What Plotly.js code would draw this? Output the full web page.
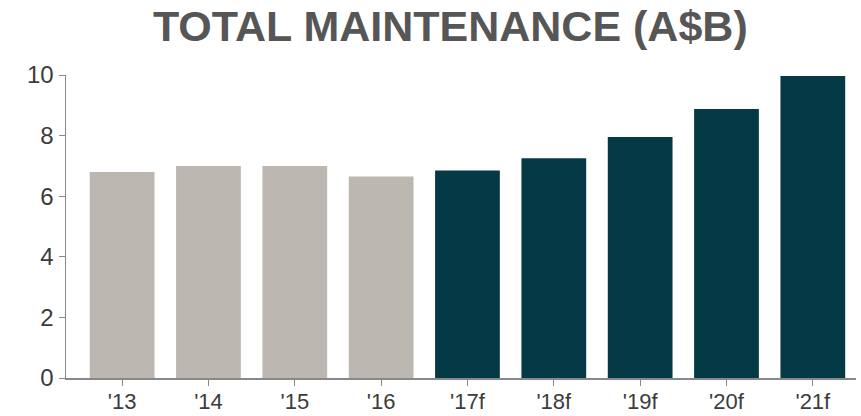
<!DOCTYPE html>
<html><head><meta charset="utf-8">
<script src="https://cdn.plot.ly/plotly-3.0.1.min.js"></script>
<style>body{margin:0;background:#fff}#chart{width:861px;height:416px}</style>
</head><body><div id="chart"></div>
<script>
var categories = ["'13","'14","'15","'16","'17f","'18f","'19f","'20f","'21f"];
var values = [6.8, 7.0, 7.0, 6.65, 6.85, 7.25, 7.95, 8.88, 9.97];
var isForecast = [false,false,false,false,true,true,true,true,true];
var colors = isForecast.map(function(f){return f ? '#033a45' : '#bcb7b1';});

Plotly.newPlot('chart', [{
  type: 'bar', x: categories, y: values,
  marker: {color: colors}, hoverinfo: 'x+y'
}], {
  width: 861, height: 416,
  margin: {l: 66, r: 5, t: 75, b: 38},
  paper_bgcolor: '#fff', plot_bgcolor: '#fff',
  bargap: 0.25,
  title: {text: '<b>TOTAL MAINTENANCE (A$B)</b>', x: 0.523, xanchor: 'center', y: 0.975, yanchor: 'top',
          font: {family: 'Liberation Sans, Arial, sans-serif', size: 43, color: '#565656'}},
  xaxis: {type: 'category', range: [-0.65, 8.5], showline: true, linecolor: '#888', linewidth: 1.5,
          ticks: 'outside', ticklen: 6, tickcolor: '#888', showgrid: false, zeroline: false,
          ticklabelstandoff: -3,
          tickfont: {family: 'Liberation Sans, Arial, sans-serif', size: 22, color: '#3c3c3c'}},
  yaxis: {range: [0, 10], dtick: 2, showline: true, linecolor: '#888', linewidth: 1.5,
          ticks: 'outside', ticklen: 6, tickcolor: '#888', showgrid: false, zeroline: false,
          tickfont: {family: 'Liberation Sans, Arial, sans-serif', size: 24, color: '#3c3c3c'}},
  showlegend: false
}, {displayModeBar: false, staticPlot: true});
</script></body></html>
